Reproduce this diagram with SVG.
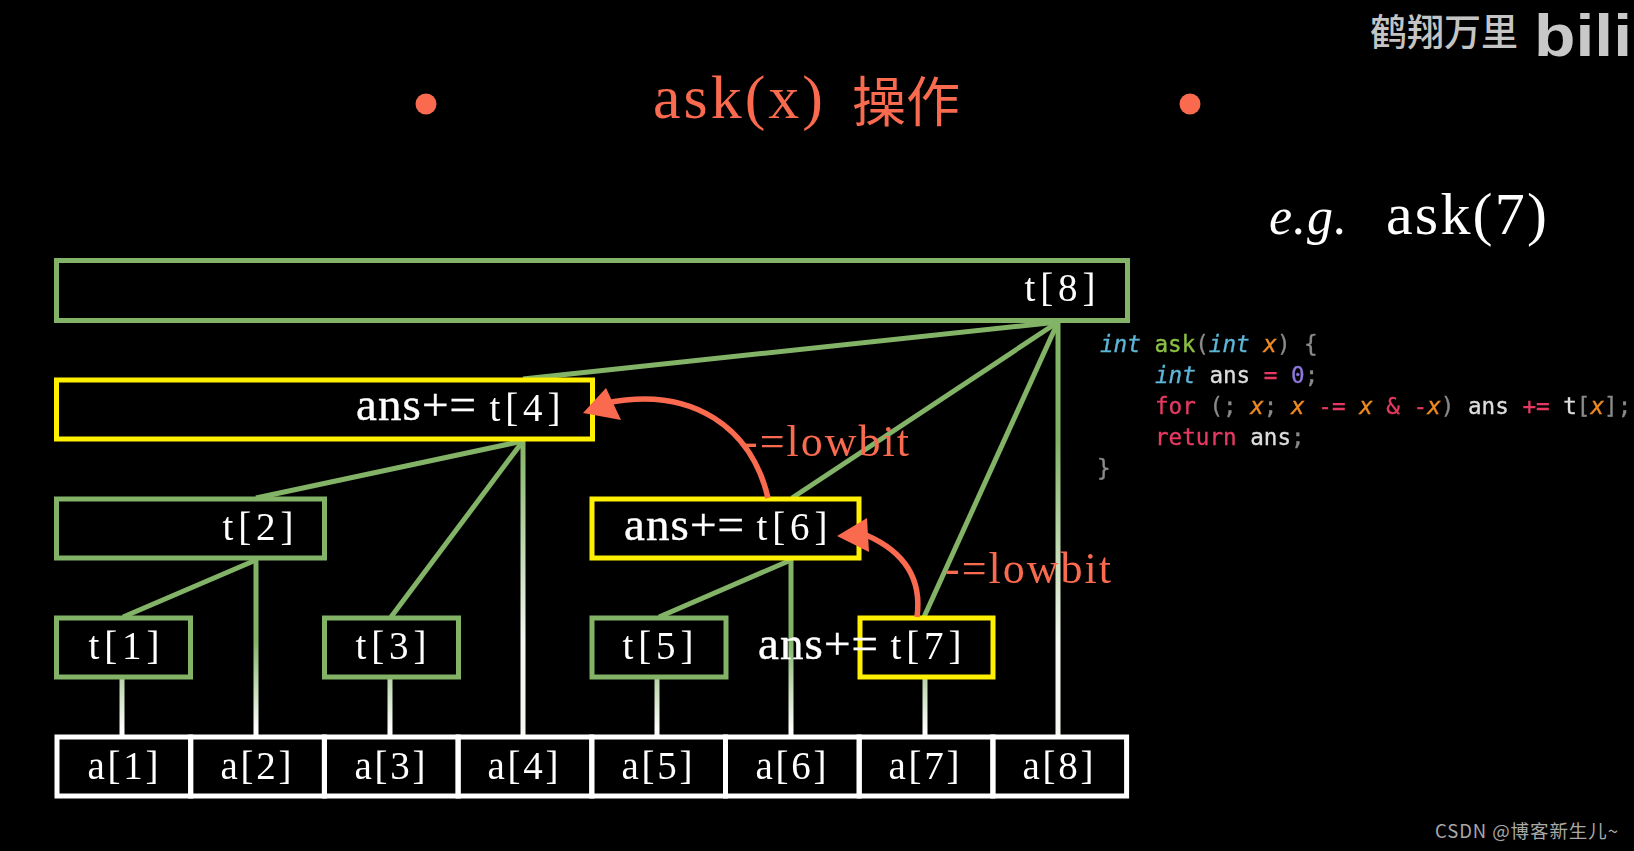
<svg xmlns="http://www.w3.org/2000/svg" width="1634" height="851" viewBox="0 0 1634 851">
<style>
.box{fill:none;stroke-width:5}
.g{stroke:#82b366}.y{stroke:#ffef00}.w{stroke:#fff}
.c{fill:none;stroke-width:5;stroke:#82b366}
.tt{font-family:"Liberation Serif",serif;fill:#fff;font-size:39px;text-anchor:middle}
.ans{font-size:47px;stroke:#fff;stroke-width:.4px}
.red{fill:#f96a50}
.lb{font-family:"Liberation Serif",serif;font-size:44px;fill:#f96a50}
.code{font-family:"DejaVu Sans Mono",monospace;font-size:22.6px;fill:#ddd;stroke:#ddd;stroke-width:.35px}
.i{font-style:italic}.b{fill:#5db7d8;stroke:#5db7d8}.o{fill:#ee8a22;stroke:#ee8a22}.p{fill:#e63a62;stroke:#e63a62}.n{fill:#8a8a8a;stroke:#8a8a8a}.v{fill:#8f78e0;stroke:#8f78e0}.l{fill:#8cc043;stroke:#8cc043}
.wm{font-family:"Noto Sans CJK SC",sans-serif}
</style>
<defs>
<linearGradient id="fadeS" gradientUnits="userSpaceOnUse" x1="0" y1="640" x2="0" y2="730"><stop offset="0" stop-color="#82b366"/><stop offset="1" stop-color="#fff"/></linearGradient>
<linearGradient id="fadeL" gradientUnits="userSpaceOnUse" x1="0" y1="440" x2="0" y2="640"><stop offset="0" stop-color="#82b366"/><stop offset="1" stop-color="#f4f8f0"/></linearGradient>
<filter id="soft" x="-5%" y="-5%" width="110%" height="110%"><feGaussianBlur stdDeviation="0.45"/></filter>
<filter id="softer" x="-5%" y="-5%" width="110%" height="110%"><feGaussianBlur stdDeviation="0.6"/></filter>
</defs>
<rect width="1634" height="851" fill="#000"/>
<g filter="url(#soft)">
<g id="header">
<circle class="red" cx="426" cy="104" r="10.5"/>
<circle class="red" cx="1190" cy="104" r="10.5"/>
<text x="653" y="118" font-family="Liberation Serif, serif" font-size="62" fill="#f96a50" textLength="170">ask(x)</text>
<text x="852" y="122" font-family="Noto Sans CJK SC, sans-serif" font-size="54" fill="#f96a50">操作</text>
<text x="1269" y="234" font-family="Liberation Serif, serif" font-style="italic" font-size="52" fill="#fff" textLength="78">e.g.</text>
<text x="1386" y="234" font-family="Liberation Serif, serif" font-size="60" fill="#fff" textLength="161">ask(7)</text>
</g>
<g id="connectors">
<path class="c" d="M1058 322L523 379"/>
<path class="c" d="M1058 322L792 498"/>
<path class="c" d="M1058 322L924 617"/>
<path class="c" d="M523 441L256 498"/>
<path class="c" d="M523 441L391 617"/>
<path class="c" d="M256 560L123 617"/>
<path class="c" d="M791 560L659 617"/>
<path class="c" style="stroke:url(#fadeL)" d="M1058 322V736"/>
<path class="c" style="stroke:url(#fadeL)" d="M523 441V736"/>
<path class="c" style="stroke:url(#fadeS)" d="M256 560V736"/>
<path class="c" style="stroke:url(#fadeS)" d="M791 560V736"/>
<path class="c" style="stroke:url(#fadeS)" d="M122 677V736"/>
<path class="c" style="stroke:url(#fadeS)" d="M390 677V736"/>
<path class="c" style="stroke:url(#fadeS)" d="M657 677V736"/>
<path class="c" style="stroke:url(#fadeS)" d="M925 677V736"/>
</g>
<g id="t8"><rect class="box g" x="56.500" y="260.500" width="1071" height="60"/><text class="tt" x="1060" y="301" textLength="71">t[8]</text></g>
<g id="t4"><rect class="box y" x="56.500" y="380" width="536" height="59"/><text class="tt ans" x="416" y="420" textLength="120">ans+=</text><text class="tt" x="525" y="421" textLength="71">t[4]</text></g>
<g id="t2"><rect class="box g" x="56.500" y="499" width="268" height="59"/><text class="tt" x="258" y="540" textLength="71">t[2]</text></g>
<g id="t6"><rect class="box y" x="592" y="499" width="267" height="59"/><text class="tt ans" x="684" y="540" textLength="120">ans+=</text><text class="tt" x="792" y="540" textLength="71">t[6]</text></g>
<g id="t1"><rect class="box g" x="56.500" y="618" width="134" height="59"/><text class="tt" x="124" y="659" textLength="71">t[1]</text></g>
<g id="t3"><rect class="box g" x="324.500" y="618" width="134" height="59"/><text class="tt" x="391" y="659" textLength="71">t[3]</text></g>
<g id="t5"><rect class="box g" x="592" y="618" width="134" height="59"/><text class="tt" x="658" y="659" textLength="71">t[5]</text></g>
<g id="t7"><rect class="box y" x="860" y="618" width="133" height="59"/><text class="tt ans" x="818" y="659" textLength="120">ans+=</text><text class="tt" x="926" y="659" textLength="71">t[7]</text></g>
<g id="a1"><rect class="box w" x="57" y="737" width="133.700" height="59"/><text class="tt" x="123" y="779" textLength="71">a[1]</text></g>
<g id="a2"><rect class="box w" x="190.700" y="737" width="133.700" height="59"/><text class="tt" x="256" y="779" textLength="71">a[2]</text></g>
<g id="a3"><rect class="box w" x="324.400" y="737" width="133.700" height="59"/><text class="tt" x="390" y="779" textLength="71">a[3]</text></g>
<g id="a4"><rect class="box w" x="458.100" y="737" width="133.700" height="59"/><text class="tt" x="523" y="779" textLength="71">a[4]</text></g>
<g id="a5"><rect class="box w" x="591.800" y="737" width="133.700" height="59"/><text class="tt" x="657" y="779" textLength="71">a[5]</text></g>
<g id="a6"><rect class="box w" x="725.500" y="737" width="133.700" height="59"/><text class="tt" x="791" y="779" textLength="71">a[6]</text></g>
<g id="a7"><rect class="box w" x="859.200" y="737" width="133.700" height="59"/><text class="tt" x="924" y="779" textLength="71">a[7]</text></g>
<g id="a8"><rect class="box w" x="992.900" y="737" width="133.700" height="59"/><text class="tt" x="1058" y="779" textLength="71">a[8]</text></g>
<g id="lowbit-arrows">
<path fill="none" stroke="#f96a50" stroke-width="5.500" d="M768 498C752 430 695 385 606 403"/>
<path class="red" d="M583 413L606 388L621 420Z"/>
<path fill="none" stroke="#f96a50" stroke-width="5.500" d="M917 617C922 580 905 552 866 535"/>
<path class="red" d="M837 536L867 518L869 552Z"/>
<text class="lb" x="743" y="456" textLength="166">-=lowbit</text>
<text class="lb" x="945" y="583" textLength="166">-=lowbit</text>
</g>
</g>
<g id="code" filter="url(#softer)">
<text class="code" x="1100" y="352" xml:space="preserve"><tspan class="i b">int</tspan> <tspan class="l">ask</tspan><tspan class="n">(</tspan><tspan class="i b">int</tspan> <tspan class="i o">x</tspan><tspan class="n">) {</tspan></text>
<text class="code" x="1155" y="383" xml:space="preserve"><tspan class="i b">int</tspan> ans <tspan class="p">=</tspan> <tspan class="v">0</tspan><tspan class="n">;</tspan></text>
<text class="code" x="1155" y="414" xml:space="preserve"><tspan class="p">for</tspan> <tspan class="n">(;</tspan> <tspan class="i o">x</tspan><tspan class="n">;</tspan> <tspan class="i o">x</tspan> <tspan class="p">-=</tspan> <tspan class="i o">x</tspan> <tspan class="p">&amp;</tspan> <tspan class="p">-</tspan><tspan class="i o">x</tspan><tspan class="n">)</tspan> ans <tspan class="p">+=</tspan> t<tspan class="n">[</tspan><tspan class="i o">x</tspan><tspan class="n">];</tspan></text>
<text class="code" x="1155" y="445" xml:space="preserve"><tspan class="p">return</tspan> ans<tspan class="n">;</tspan></text>
<text class="code n" x="1097" y="476">}</text>
</g>
<g id="watermarks">
<text class="wm" x="1370" y="46" font-size="37" font-weight="500" fill="#c4c4c4">鹤翔万里</text>
<text x="1534" y="56" font-family="Liberation Sans, sans-serif" font-weight="bold" font-size="60" fill="#c8c8c8" textLength="98" lengthAdjust="spacingAndGlyphs">bili</text>
<text class="wm" x="1435" y="838" font-size="18.500" fill="#a8a8a8" textLength="183">CSDN @博客新生儿~</text>
</g>
</svg>
